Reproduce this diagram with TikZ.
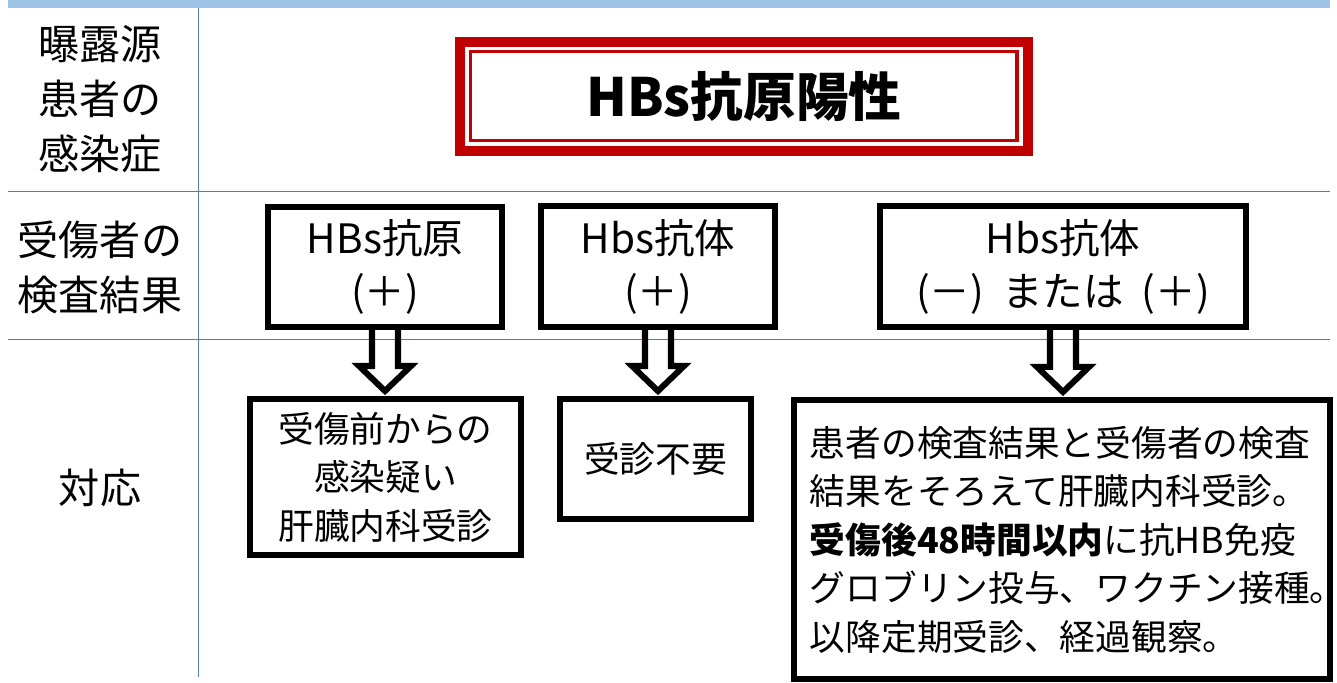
\documentclass[tikz,border=0pt]{standalone}
\usepackage{fontspec}
\setmainfont{Noto Sans CJK JP}
\usetikzlibrary{calc}

\definecolor{bandblue}{RGB}{157,195,230}
\definecolor{gridblue}{RGB}{74,126,193}
\definecolor{darkred}{RGB}{192,0,0}

\tikzset{
  rowlabel/.style={align=center, font=\fontsize{29.2}{39.3}\selectfont},
  resbox/.style={draw=black, line width=4.3pt, inner sep=0pt, outer sep=0pt, align=center, font=\fontsize{28.8}{37.7}\selectfont},
  actbox/.style={draw=black, line width=4.3pt, inner sep=0pt, outer sep=0pt, align=center, font=\fontsize{25.4}{34.5}\selectfont},
  fatarrow/.style={draw=black, line width=4.3pt},
}

\begin{document}
\begin{tikzpicture}[x=0.025cm, y=-0.025cm]
\useasboundingbox (0,0) rectangle (1337,683);

% table
\fill[bandblue] (8,0) rectangle (1330,8);
\draw[gridblue, line width=1.2pt] (8,191.5) -- (1330,191.5);
\draw[gridblue, line width=1.2pt] (8,339.5) -- (1330,339.5);
\draw[gridblue, line width=1.2pt] (198.5,8) -- (198.5,677);

% row labels
\node[rowlabel] (lblsrc) at (100,99)    {曝露源\\患者の\\感染症};
\node[rowlabel] (lblres) at (100,267.5) {受傷者の\\検査結果};
\node[rowlabel] (lblact) at (100,488)   {対応};

% source patient
\node[draw=darkred, line width=7.1pt, minimum width=14.2cm, minimum height=2.725cm, inner sep=0pt, outer sep=0pt,
      font=\fontsize{37.5}{42}\selectfont\bfseries] (src) at (744,96.5) {HBs抗原陽性};
\draw[darkred, line width=2.5pt] ([shift={(10.5,9.5)}]src.north west) rectangle ([shift={(-11,-10.5)}]src.south east);

% results of the injured
\node[resbox, minimum width=5.85cm, minimum height=3cm]     (res1) at (385,267)    {HBs抗原\\(＋)};
\node[resbox, minimum width=5.85cm, minimum height=3.025cm] (res2) at (658,266.5)  {Hbs抗体\\(＋)};
\node[resbox, minimum width=9.15cm, minimum height=3.025cm] (res3) at (1063,266.5) {Hbs抗体\\(－)\hspace{0.45em}または\hspace{0.45em}(＋)};

% what to do
\node[actbox, minimum width=6.775cm, minimum height=3.9cm] (act1) at (385.5,477) {受傷前からの\\感染疑い\\肝臓内科受診};
\node[actbox, minimum width=4.775cm, minimum height=3cm]   (act2) at (655.5,459) {受診不要};
\node[actbox, align=left, text width=12.6cm, inner xsep=0.4cm, minimum width=13.4cm, minimum height=6.975cm] (act3) at (1062,539.5)
  {患者の検査結果と受傷者の検査\\結果をそろえて肝臓内科受診。\\{\bfseries 受傷後48時間以内}に抗HB免疫\\グロブリン投与、ワクチン接種。\\以降定期受診、経過観察。};

% block arrows
\draw[fatarrow] ($(res1.south)+(-13,0)$) |- ($(act1.north -| res1.south)+(-26,-33)$) -- ($(act1.north -| res1.south)+(0,-8)$) -- ($(act1.north -| res1.south)+(26,-33)$) -| ($(res1.south)+(13,0)$); %1
\draw[fatarrow] ($(res2.south)+(-13,0)$) |- ($(act2.north -| res2.south)+(-26,-33)$) -- ($(act2.north -| res2.south)+(0,-8)$) -- ($(act2.north -| res2.south)+(26,-33)$) -| ($(res2.south)+(13,0)$); %2
\draw[fatarrow] ($(res3.south)+(-13,0)$) |- ($(act3.north -| res3.south)+(-26,-33)$) -- ($(act3.north -| res3.south)+(0,-8)$) -- ($(act3.north -| res3.south)+(26,-33)$) -| ($(res3.south)+(13,0)$); %3

\end{tikzpicture}
\end{document}
